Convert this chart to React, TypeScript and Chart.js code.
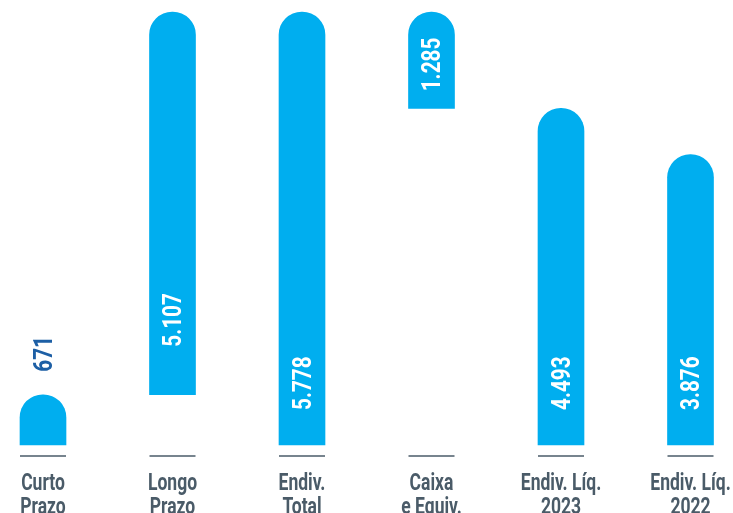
import React, { useEffect, useRef } from "react";
import { Chart, registerables } from "chart.js";

Chart.register(...registerables);

const categories: string[][] = [
  ["Curto", "Prazo"],
  ["Longo", "Prazo"],
  ["Endiv.", "Total"],
  ["Caixa", "e Equiv."],
  ["Endiv. Líq.", "2023"],
  ["Endiv. Líq.", "2022"],
];
const barBase: number[] = [0, 671, 0, 4493, 0, 0];
const barValue: number[] = [671, 5107, 5778, 1285, 4493, 3876];
const valueLabels: string[] = ["671", "5.107", "5.778", "1.285", "4.493", "3.876"];

const BAR_COLOR = "#00aeef";
const TEXT_GRAY = "#4a5b68";
const LABEL_BLUE = "#1d5fa5";
const FONT = "Roboto, 'DejaVu Sans', sans-serif";

// label placement (pixels): inside labels start this far above the bar base; first label sits above the bar
const insideGap = [0, 48, 35, 17, 35, 35];
const outsideGap = 23;

const drawPlugin = {
  id: "customText",
  afterDatasetsDraw(chart: any) {
    const ctx = chart.ctx;
    const meta = chart.getDatasetMeta(0);
    const xScale = chart.scales.x;
    ctx.save();
    // baseline segments under each bar
    ctx.strokeStyle = TEXT_GRAY;
    ctx.lineWidth = 1.5;
    const ly = chart.chartArea.bottom + 11;
    meta.data.forEach((el: any) => {
      const w = el.width;
      ctx.beginPath();
      ctx.moveTo(el.x - w / 2, ly);
      ctx.lineTo(el.x + w / 2, ly);
      ctx.stroke();
    });

    // value labels (rotated, condensed)
    const fs = 25;
    ctx.font = `bold ${fs}px ${FONT}`;
    ctx.textAlign = "left";
    ctx.textBaseline = "alphabetic";
    const capH = fs * 0.711;
    meta.data.forEach((el: any, i: number) => {
      let yStart: number;
      if (i === 0) {
        ctx.fillStyle = LABEL_BLUE;
        yStart = Math.min(el.y, el.base) - outsideGap;
      } else {
        ctx.fillStyle = "#ffffff";
        yStart = Math.max(el.y, el.base) - insideGap[i];
      }
      ctx.save();
      ctx.translate(el.x, yStart);
      ctx.rotate(-Math.PI / 2);
      ctx.scale(0.83, 1);
      ctx.fillText(valueLabels[i], 0, capH / 2);
      ctx.restore();
    });

    // category labels (condensed)
    const cfs = 24;
    ctx.font = `bold ${cfs}px ${FONT}`;
    ctx.textAlign = "center";
    ctx.fillStyle = TEXT_GRAY;
    const labels = chart.data.labels as string[][];
    labels.forEach((lines, i) => {
      const x = xScale.getPixelForTick(i);
      lines.forEach((line, j) => {
        ctx.save();
        ctx.translate(x, chart.chartArea.bottom + 45 + j * 24);
        ctx.scale(0.73, 1);
        ctx.fillText(line, 0, 0);
        ctx.restore();
      });
    });
    ctx.restore();
  },
};

export default function App() {
  const ref = useRef<HTMLCanvasElement>(null);
  useEffect(() => {
    if (!ref.current) return;
    const chart = new Chart(ref.current, {
      type: "bar",
      data: {
        labels: categories,
        datasets: [
          {
            data: barValue.map((v, i) => [barBase[i], barBase[i] + v]) as any,
            backgroundColor: BAR_COLOR,
            barThickness: 46,
            borderRadius: { topLeft: 23, topRight: 23, bottomLeft: 0, bottomRight: 0 },
            borderSkipped: false,
            clip: false as any,
          },
        ],
      },
      options: {
        animation: false,
        responsive: true,
        maintainAspectRatio: false,
        layout: { padding: { left: 43, right: 42.5, top: 12, bottom: 0 } },
        plugins: { legend: { display: false }, tooltip: { enabled: false } },
        scales: {
          x: {
            offset: false,
            grid: { display: false, drawTicks: false },
            border: { display: false },
            ticks: { display: false, autoSkip: false, maxRotation: 0 },
            afterFit: (scale: any) => {
              scale.height = 68;
              scale.paddingLeft = 0;
              scale.paddingRight = 0;
            },
          },
          y: {
            display: false,
            min: 0,
            max: Math.max(...barValue.map((v, i) => barBase[i] + v)),
          },
        },
      },
      plugins: [drawPlugin],
    });
    return () => chart.destroy();
  }, []);
  return (
    <div style={{ position: "fixed", left: 0, top: 0, width: 733, height: 513 }}>
      <canvas ref={ref} />
    </div>
  );
}
